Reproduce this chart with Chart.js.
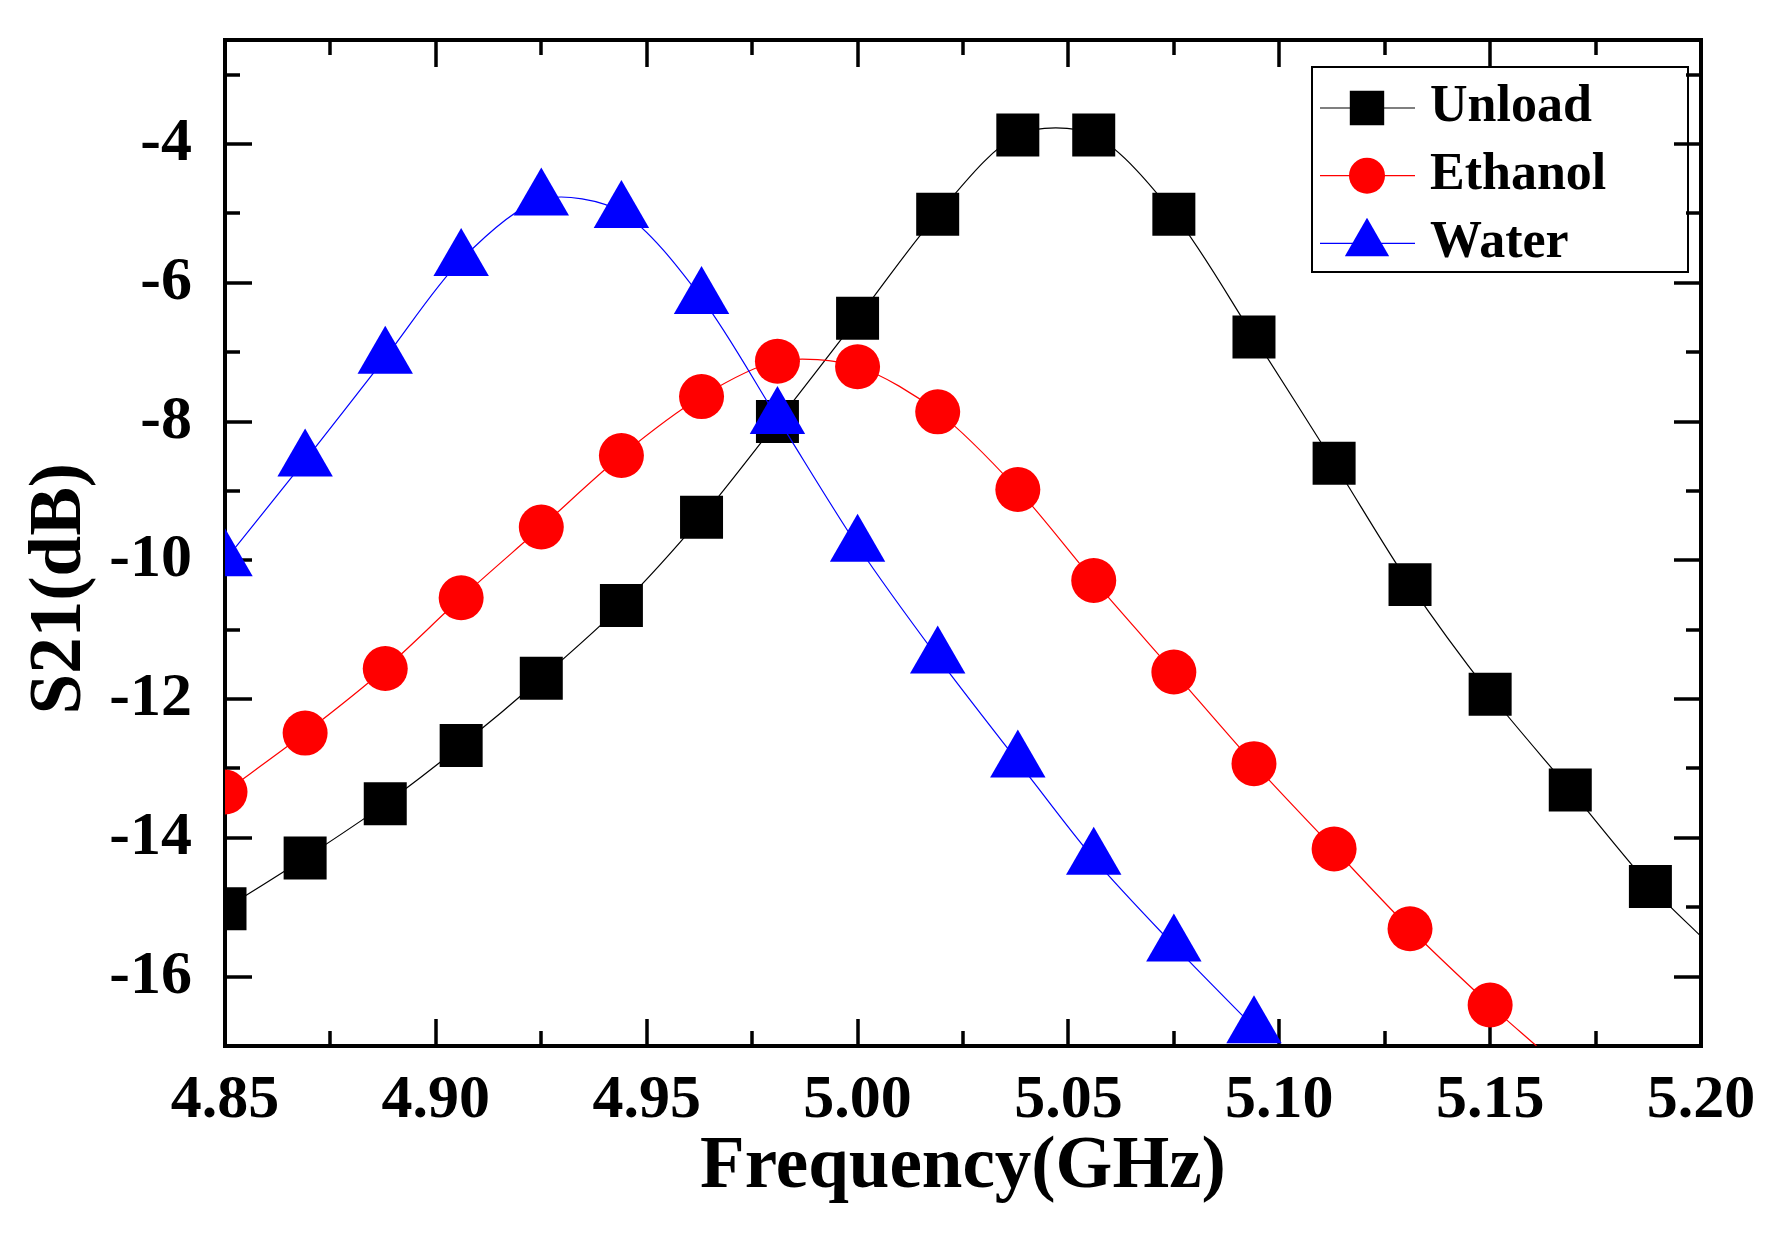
<!DOCTYPE html>
<html>
<head>
<meta charset="utf-8">
<title>S21 vs Frequency</title>
<script src="https://cdn.jsdelivr.net/npm/chart.js@4.4.1/dist/chart.umd.min.js"></script>
<style>
  html, body { margin: 0; padding: 0; background: #fff; }
  canvas { display: block; }
</style>
</head>
<body>
<canvas id="s21Chart" width="1785" height="1236"></canvas>
<script>
// marker positions (GHz), shared by all three curves
const freq = [4.850, 4.869, 4.888, 4.906, 4.925, 4.944, 4.963, 4.981, 5.000, 5.019,
              5.038, 5.056, 5.075, 5.094, 5.113, 5.131, 5.150, 5.169, 5.188];

const unload  = [-15.02, -14.29, -13.51, -12.67, -11.70, -10.65, -9.38, -8.00, -6.51, -5.01,
                 -3.87, -3.87, -5.01, -6.78, -8.60, -10.35, -11.93, -13.31, -14.70];
const ethanol = [-13.34, -12.49, -11.56, -10.54, -9.52, -8.49, -7.64, -7.13, -7.21, -7.86,
                 -8.98, -10.29, -11.61, -12.93, -14.16, -15.31, -16.41];
const water   = [-10.00, -8.56, -7.08, -5.67, -4.80, -4.98, -6.22, -7.95, -9.79, -11.40,
                 -12.90, -14.30, -15.55, -16.73];

// where a curve leaves the frame after its last marker
const unloadTail  = [5.200, -15.42];
const ethanolTail = [5.161, -17.00];

const xMin = 4.85, xMax = 5.20, yMin = -17, yMax = -2.5;
const xMajor  = [4.85, 4.90, 4.95, 5.00, 5.05, 5.10, 5.15, 5.20];
const xLabels = ['4.85', '4.90', '4.95', '5.00', '5.05', '5.10', '5.15', '5.20'];
const xMinor  = [4.875, 4.925, 4.975, 5.025, 5.075, 5.125, 5.175];
const yMajor  = [-16, -14, -12, -10, -8, -6, -4];
const yLabels = ['-16', '-14', '-12', '-10', '-8', '-6', '-4'];
const yMinor  = [-17, -15, -13, -11, -9, -7, -5, -3];

const serif = "'Liberation Serif', 'Times New Roman', serif";
const black = '#000000';

Chart.defaults.font.family = serif;
Chart.defaults.font.weight = 'bold';
Chart.defaults.color = black;

function points(ys, tail) {
  const pts = ys.map((y, i) => ({x: freq[i], y: y}));
  if (tail) pts.push({x: tail[0], y: tail[1]});
  return pts;
}

function series(label, ys, tail, color, pointStyle, radius, order) {
  const n = ys.length;
  return {
    label: label,
    data: points(ys, tail),
    order: order,
    showLine: true,
    borderColor: color,
    borderWidth: 1.2,
    tension: 0.3,
    pointStyle: pointStyle,
    pointBackgroundColor: color,
    pointBorderWidth: 0,
    pointRadius: c => (c.dataIndex < n ? radius : 0),
    legendRadius: radius * 0.8
  };
}

// one frame side: major axes carry the border and long ticks, minor ones the short ticks
function side(position, values, size, tickLength, major) {
  const horizontal = position === 'top' || position === 'bottom';
  return {
    type: 'linear',
    axis: horizontal ? 'x' : 'y',
    position: position,
    min: horizontal ? xMin : yMin,
    max: horizontal ? xMax : yMax,
    weight: major ? 1 : 0,
    afterBuildTicks: s => { s.ticks = values.map(v => ({value: v})); },
    afterFit: s => {
      if (horizontal) s.height = size; else s.width = size;
      s.paddingLeft = s.paddingRight = s.paddingTop = s.paddingBottom = 0;
    },
    grid: {
      display: true, drawOnChartArea: false, drawTicks: true,
      tickLength: tickLength, tickWidth: 3.5, tickColor: black,
      lineWidth: 4, color: black
    },
    border: {display: major, width: 4, color: black},
    ticks: {display: false}
  };
}

const xAxis = side('bottom', xMajor, 190, -27, true);
xAxis.ticks = {
  display: true, autoSkip: false, maxRotation: 0, minRotation: 0, padding: 45,
  font: {family: serif, size: 62, weight: 'bold'}, color: black,
  callback: (v, i) => xLabels[i]
};
xAxis.title = {
  display: true, text: 'Frequency(GHz)', color: black,
  font: {family: serif, size: 73, weight: 'bold'},
  padding: {top: 0, bottom: 24}
};

const yAxis = side('left', yMajor, 225, -27, true);
yAxis.ticks = {
  display: true, autoSkip: false, padding: 60,
  font: {family: serif, size: 62, weight: 'bold'}, color: black,
  callback: (v, i) => yLabels[i]
};
yAxis.title = {
  display: true, text: 'S21(dB)     ', color: black,
  font: {family: serif, size: 73, weight: 'bold'},
  padding: {top: 17, bottom: 0}
};

// framed legend in the upper right corner of the plot
const legendBox = {
  id: 'legendBox',
  afterDraw(chart) {
    const {ctx, chartArea} = chart;
    const left = chartArea.right - 389;
    const top = chartArea.top + 27;
    ctx.save();
    ctx.lineWidth = 2;
    ctx.strokeStyle = black;
    ctx.strokeRect(left, top, 376, 205);
    ctx.font = 'bold 52px ' + serif;
    ctx.textBaseline = 'middle';
    ctx.textAlign = 'left';
    chart.data.datasets.forEach((ds, i) => {
      const y = top + 41 + i * 67.7;
      ctx.strokeStyle = ds.borderColor;
      ctx.lineWidth = ds.borderWidth;
      ctx.beginPath();
      ctx.moveTo(left + 8, y);
      ctx.lineTo(left + 103, y);
      ctx.stroke();
      ctx.fillStyle = ds.pointBackgroundColor;
      Chart.helpers.drawPoint(ctx, {pointStyle: ds.pointStyle, radius: ds.legendRadius, rotation: 0, borderWidth: 0}, left + 55, y);
      ctx.fillStyle = black;
      ctx.fillText(ds.label, left + 118, y);
    });
    ctx.restore();
  }
};

new Chart(document.getElementById('s21Chart'), {
  type: 'scatter',
  data: {
    datasets: [
      series('Unload', unload, unloadTail, '#000000', 'rect', 30.4, 3),
      series('Ethanol', ethanol, ethanolTail, '#ff0000', 'circle', 22.5, 2),
      series('Water', water, null, '#0000ff', 'triangle', 32, 1)
    ]
  },
  options: {
    responsive: false,
    devicePixelRatio: 1,
    animation: false,
    events: [],
    layout: {padding: 0},
    plugins: {legend: {display: false}, tooltip: {enabled: false}},
    scales: {
      x: xAxis,
      xMinor: side('bottom', xMinor, 0, -15, false),
      xTop: side('top', xMajor, 40, -27, true),
      xTopMinor: side('top', xMinor, 0, -15, false),
      y: yAxis,
      yMinor: side('left', yMinor, 0, -15, false),
      yRight: side('right', yMajor, 84, -27, true),
      yRightMinor: side('right', yMinor, 0, -15, false)
    }
  },
  plugins: [legendBox]
});
</script>
</body>
</html>
